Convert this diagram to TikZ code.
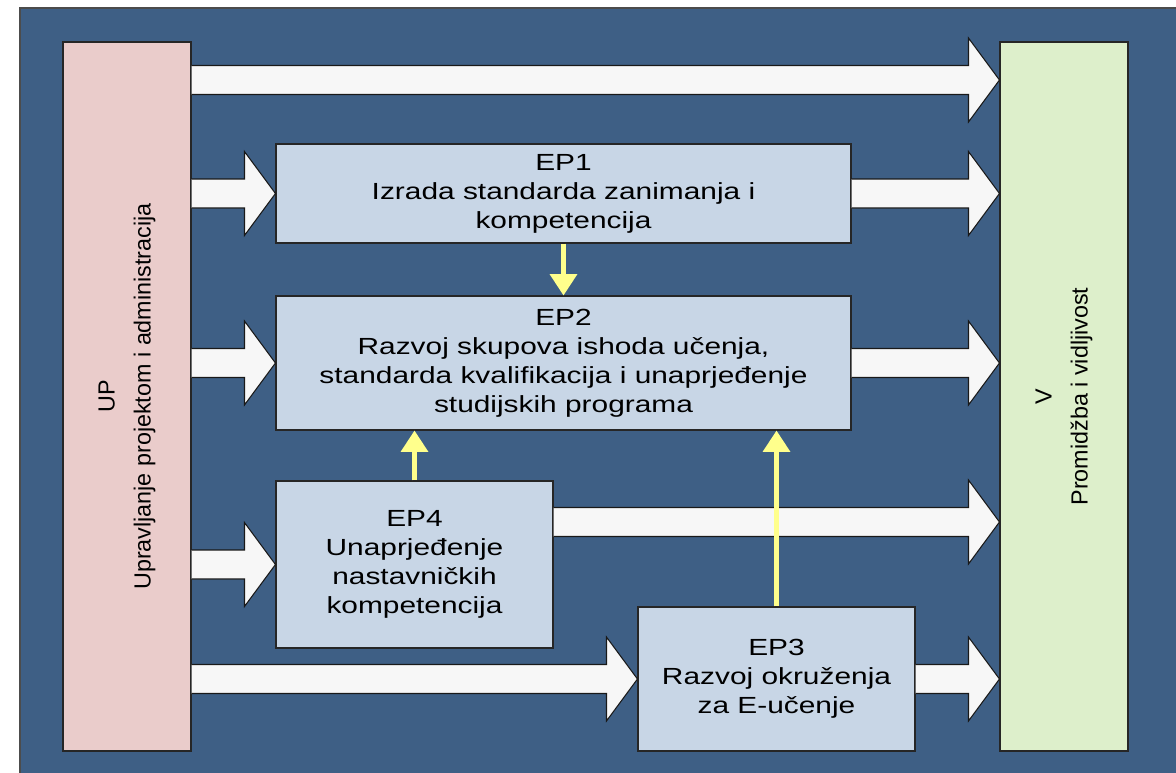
\documentclass[tikz,border=0pt]{standalone}
\usepackage{fontspec}
\setmainfont{Liberation Sans}
\newfontfamily\widefont{Liberation Sans}[FakeStretch=1.28]
\usetikzlibrary{calc,arrows.meta}

\definecolor{bgblue}{RGB}{62,95,133}
\definecolor{epfill}{RGB}{200,214,230}
\definecolor{upfill}{RGB}{234,204,203}
\definecolor{vfill}{RGB}{221,239,203}
\definecolor{arrowwhite}{RGB}{247,247,247}
\definecolor{linkyellow}{RGB}{255,255,140}

%% wide white arrow, shaft starts at #1, tip at #2
\newcommand{\widearrow}[2]{%
  \path[widedecorate] ($(#1)+(0,-14.5)$) -- ($(#2)+(-31,-14.5)$) -- ($(#2)+(-31,-42)$)
    -- (#2) -- ($(#2)+(-31,42)$) -- ($(#2)+(-31,14.5)$) -- ($(#1)+(0,14.5)$);%
}

\begin{document}
\begin{tikzpicture}
[x=0.75pt,y=-0.75pt,%
  boxdecorate/.style={draw=black!85,line width=0.8pt,align=center,inner sep=0pt},%
  epdecorate/.style={boxdecorate,fill=epfill,font=\widefont\fontsize{17.5}{21.75}\selectfont},%
  sidedecorate/.style={boxdecorate,minimum width=531.75pt,minimum height=96pt,rotate=90,
    font=\fontsize{17.5}{27}\selectfont},%
  widedecorate/.style={fill=arrowwhite,draw=black!90,line width=0.8pt,line join=miter},%
  linkdecorate/.style={draw=linkyellow,line width=3.2pt,-{Triangle[width=20pt,length=16pt]}}]
\useasboundingbox (0,0) rectangle (1176,772);
%% background panel
\fill[bgblue,draw=black!70,line width=0.8pt] (20,8) rectangle (1180,776);
%% side columns (turned by 90 degrees: .south is the right side, .north the left side)
\node (UP) at (127,396.5) [sidedecorate,fill=upfill] {UP\\Upravljanje projektom i administracija};
\node (V) at (1064,396.5) [sidedecorate,fill=vfill] {V\\Promidžba i vidljivost};
%% work packages
\node (EP1) at (563.5,193.5) [epdecorate,minimum width=431.25pt,minimum height=74.25pt]
  {EP1\\Izrada standarda zanimanja i\\kompetencija};
\node (EP2) at (563.5,363) [epdecorate,minimum width=431.25pt,minimum height=100.5pt]
  {EP2\\Razvoj skupova ishoda učenja,\\standarda kvalifikacija i unaprjeđenje\\studijskih programa};
\node (EP4) at (414.5,564.5) [epdecorate,minimum width=207.75pt,minimum height=125.25pt]
  {EP4\\Unaprjeđenje\\nastavničkih\\kompetencija};
\node (EP3) at (776.5,679) [epdecorate,minimum width=207.75pt,minimum height=108pt]
  {EP3\\Razvoj okruženja\\za E-učenje};
%% rows without a box of their own
\coordinate (toprow) at (600,80);
\coordinate (ep4out) at (600,522);
%% wide arrows
\foreach \startnode/\endnode in {
UP.south |- toprow/V.north |- toprow,
UP.south |- EP1/EP1.west, EP1.east/V.north |- EP1,
UP.south |- EP2/EP2.west, EP2.east/V.north |- EP2,
UP.south |- EP4/EP4.west, EP4.east |- ep4out/V.north |- ep4out,
UP.south |- EP3/EP3.west, EP3.east/V.north |- EP3}
{
  \widearrow{\startnode}{\endnode}
}
%% links between work packages
\draw[linkdecorate] (EP1.south) -- (EP2.north);
\draw[linkdecorate] (EP4.north) -- (EP4.north |- EP2.south);
\draw[linkdecorate] (EP3.north) -- (EP3.north |- EP2.south);
\end{tikzpicture}
\end{document}
